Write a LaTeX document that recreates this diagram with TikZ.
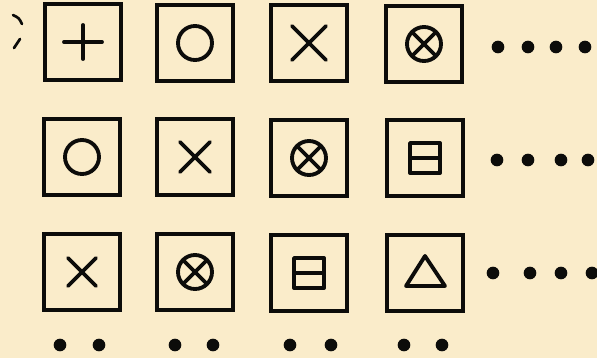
\documentclass[tikz,border=0pt]{standalone}
\definecolor{paper}{RGB}{250,236,202}
\definecolor{ink}{RGB}{12,12,10}
\tikzset{
  cell/.style={draw=ink, line width=2.6pt, minimum width=57pt, minimum height=57pt, inner sep=0pt},
  symline/.style={draw=ink, line width=2.9pt, line cap=round, line join=round},
  dot/.style={circle, fill=ink, inner sep=0pt, minimum size=9.5pt},
  pics/plussym/.style={code={\draw[symline] (-19,0) -- (19,0) (0,-17) -- (0,17);}},
  pics/ringsym/.style={code={\draw[symline] (0,0) circle[radius=17];}},
  pics/crosssym/.style={code={\draw[symline] (-#1,-#1) -- (#1,#1) (-#1,#1) -- (#1,-#1);}},
  pics/otimessym/.style={code={\draw[symline] (0,0) circle[radius=17] (-12,-12) -- (12,12) (-12,12) -- (12,-12);}},
  pics/boxminussym/.style={code={\draw[symline] (-15,-15) rectangle (15,15) (-15,0) -- (15,0);}},
  pics/trianglesym/.style={code={\draw[symline] (0,-17) -- (20,13) -- (-19,13) -- cycle;}},
}
\begin{document}
\begin{tikzpicture}[x=0.75pt, y=-0.75pt]
\fill[paper] (0,0) rectangle (597,358);
\useasboundingbox (0,0) rectangle (597,358);
% stray marks
\draw[ink, line width=2pt, line cap=round] (13,15) .. controls (19,18) .. (22,24);
\draw[ink, line width=2pt, line cap=round] (20,39) .. controls (17,44) .. (14,48);
% row 1
\node[cell] (b11) at (83,42) {};
\node[cell] (b12) at (195,43) {};
\node[cell] (b13) at (309,43) {};
\node[cell] (b14) at (424,44) {};
% row 2
\node[cell] (b21) at (82,157) {};
\node[cell] (b22) at (195,157) {};
\node[cell] (b23) at (309,158) {};
\node[cell] (b24) at (425,158) {};
% row 3
\node[cell] (b31) at (82,272) {};
\node[cell] (b32) at (195,272) {};
\node[cell] (b33) at (309,273) {};
\node[cell] (b34) at (425,273) {};
% symbols
\pic at (b11.center) {plussym};
\pic at (b12.center) {ringsym};
\pic at (b13.center) {crosssym=17};
\pic at (b14.center) {otimessym};
\pic at (b21.center) {ringsym};
\pic at (b22.center) {crosssym=15};
\pic at (b23.center) {otimessym};
\pic at (b24.center) {boxminussym};
\pic at (b31.center) {crosssym=14};
\pic at (b32.center) {otimessym};
\pic at (b33.center) {boxminussym};
\pic at (b34.center) {trianglesym};
% trailing dots
\foreach \x [count=\i] in {498,528,556,585} \node[dot] (r1d\i) at (\x,47) {};
\foreach \x [count=\i] in {497,528,561,588} \node[dot] (r2d\i) at (\x,160) {};
\foreach \x [count=\i] in {493,530,561,592} \node[dot] (r3d\i) at (\x,273) {};
\foreach \x [count=\i] in {60,99,175,213,290,331,404,442} \node[dot] (bd\i) at (\x,345) {};
\end{tikzpicture}
\end{document}
